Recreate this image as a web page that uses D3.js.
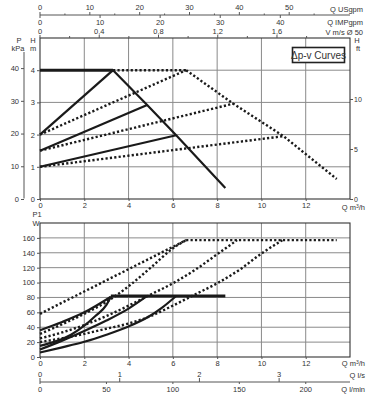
<!DOCTYPE html>
<html><head><meta charset="utf-8">
<script src="https://cdn.jsdelivr.net/npm/d3@7"></script>
<style>
html,body{margin:0;padding:0;background:#fff;}
svg{display:block;}
text{font-family:"Liberation Sans",Arial,Helvetica,sans-serif;fill:#333;}
</style></head>
<body><div id="chart"></div>
<script>
// ---------- tick labels / axes data ----------
const qTicks = [0,2,4,6,8,10,12];
const qGrid = [2,4,6,8,10,12];
const hTicks = [0,1,2,3,4];
const kpaTicks = [0,10,20,30,40];
const ftTicks = [0,5,10];
const usgpmTicks = [0,10,20,30,40,50];
const impTicks = [0,10,20,30,40];
const velTicks = [0,0.4,0.8,1.2,1.6];
const velMinor = [0.2,0.6,1.0,1.4,1.8];
const velLabels = ["0","0,4","0,8","1,2","1,6"];
const pTicks = [0,20,40,60,80,100,120,140,160];
const lsTicks = [0,1,2,3];
const lminTicks = [0,50,100,150,200];

// ---------- head curves (Q m3/h, H m) ----------
const headSolidMax = [[0,4],[3.3,4]];
const headSolidDesc = [[3.3,4],[4.84,2.92],[6.15,1.98],[8.37,0.34]];
const headSolidDpv1 = [[0,2],[3.3,4]];
const headSolidDpv2 = [[0,1.5],[4.84,2.92]];
const headSolidDpv3 = [[0,1],[6.15,1.98]];
const headDotMax = [[3.3,4],[6.6,4]];
const headDotDesc = [[6.6,4],[8.73,2.96],[11.0,1.95],[13.4,0.62]];
const headDotDpv1 = [[0,2],[6.6,4]];
const headDotDpv2 = [[0,1.5],[8.73,2.96]];
const headDotDpv3 = [[0,1],[11.0,1.95]];

// ---------- power curves (Q m3/h, P1 W) ----------
const powSolidMax = [[3.2,82],[8.37,82]];
const powSolidA = [[0,36],[1,47],[2,60],[3.2,81]];
const powSolidB = [[0,15],[0.7,21],[1.4,30],[2.0,42],[2.5,55],[3.0,70],[3.2,81]];
const powSolidC = [[0,10],[1,22],[2,35],[3,49],[4,65],[4.84,82]];
const powSolidD = [[0,6],[1,13],[2,20.5],[3,30],[4,41],[4.9,54],[5.5,66],[6.15,82]];
const powDotMax = [[6.6,157],[13.4,157]];
const powDotE = [[0,58],[6.6,157]];
const powDotF = [[0,31],[1,44],[2,58],[3,74],[4,95],[5,120],[6,146],[6.6,157]];
const powDotG = [[0,25],[1,33],[2,43],[3,55],[4,69],[5,84],[6,99],[7,117],[8,138],[8.9,157]];
const powDotH = [[0,20],[2,31],[3,38],[4,45],[5,55],[6,69],[7,84],[8,99],[9,117],[10,139],[10.95,157]];

const W = 373, H = 398;
const svg = d3.select("#chart").append("svg").attr("width",W).attr("height",H);

const x = d3.scaleLinear().domain([0,14]).range([40,350]);
const xUS = d3.scaleLinear().domain([0,62.2]).range([40,350]);
const xIMP = d3.scaleLinear().domain([0,51.6]).range([40,350]);
const xV = d3.scaleLinear().domain([0,2.093]).range([40,350]);
const xLs = d3.scaleLinear().domain([0,3.889]).range([40,350]);
const xLmin = d3.scaleLinear().domain([0,233.3]).range([40,350]);

const yH = d3.scaleLinear().domain([0,5]).range([199,38]);
const yKpa = d3.scaleLinear().domain([0,49.2]).range([199,38]);
const yFt = d3.scaleLinear().domain([0,16.1]).range([199,38]);
const yP = d3.scaleLinear().domain([0,180]).range([357,223]);

const gridCol = "#8a8a8a", lineCol = "#1a1a1a", axisCol = "#555", txtCol = "#333";
const fs = 7.5;

function styleAxis(g){
  g.selectAll("path").attr("stroke",axisCol).attr("stroke-width",1);
  g.selectAll("line").attr("stroke",axisCol);
  g.selectAll("text").attr("font-size",fs).attr("fill",txtCol)
    .style("font-family",'"Liberation Sans",Arial,sans-serif');
}
function label(g, xx, yy, s, anchor, size){
  return g.append("text").attr("x",xx).attr("y",yy).attr("text-anchor",anchor||"middle")
    .attr("font-size",size||fs).attr("fill",txtCol).text(s);
}

// ======== UPPER CHART ========
const up = svg.append("g");
up.selectAll(".vg").data(qGrid).join("line")
  .attr("x1",d=>x(d)).attr("x2",d=>x(d)).attr("y1",yH(5)).attr("y2",yH(0))
  .attr("stroke",gridCol).attr("stroke-width",1);
up.selectAll(".hg").data([1,2,3,4]).join("line")
  .attr("x1",x(0)).attr("x2",x(14)).attr("y1",d=>yH(d)).attr("y2",d=>yH(d))
  .attr("stroke",gridCol).attr("stroke-width",1);
up.append("rect").attr("x",x(0)).attr("y",yH(5)).attr("width",x(14)-x(0)).attr("height",yH(0)-yH(5))
  .attr("fill","none").attr("stroke","#333").attr("stroke-width",1.1);

up.append("g").attr("transform",`translate(${x(0)},0)`)
  .call(d3.axisLeft(yH).tickValues(hTicks).tickSize(3).tickPadding(2).tickFormat(d3.format("d")))
  .call(styleAxis).call(g=>g.select("path").remove());
up.append("g").attr("transform",`translate(24,0)`)
  .call(d3.axisLeft(yKpa).tickValues(kpaTicks).tickSize(3).tickPadding(2).tickFormat(d3.format("d")))
  .call(styleAxis).call(g=>g.select("path").attr("d","M0,52V198.5"));
up.append("g").attr("transform",`translate(${x(14)},0)`)
  .call(d3.axisRight(yFt).tickValues(ftTicks).tickSize(3).tickPadding(1).tickFormat(d3.format("d")))
  .call(styleAxis).call(g=>g.select("path").remove())
  .call(g=>g.selectAll("text").attr("font-size",7).attr("dy","0.3em"));
up.append("g").attr("transform",`translate(0,${yH(0)})`)
  .call(d3.axisBottom(x).tickValues(qTicks).tickSize(2).tickPadding(2).tickFormat(d3.format("d")))
  .call(styleAxis).call(g=>g.select("path").remove());

// top axes
const gUS = up.append("g").attr("transform","translate(0,15)");
gUS.append("line").attr("x1",x(0)).attr("x2",x(14)).attr("y1",0).attr("y2",0).attr("stroke",axisCol);
gUS.selectAll(".t").data(usgpmTicks).join("line").attr("x1",d=>xUS(d)).attr("x2",d=>xUS(d)).attr("y1",-3).attr("y2",0).attr("stroke",axisCol);
gUS.selectAll(".tm").data(usgpmTicks.map(d=>d+5)).join("line").attr("x1",d=>xUS(d)).attr("x2",d=>xUS(d)).attr("y1",-1.5).attr("y2",0).attr("stroke",axisCol);
gUS.selectAll(".l").data(usgpmTicks).join("text").attr("x",d=>xUS(d)).attr("y",-5).attr("text-anchor","middle").attr("font-size",fs).attr("fill",txtCol).text(d=>d);
gUS.selectAll(".ti").data(impTicks).join("line").attr("x1",d=>xIMP(d)).attr("x2",d=>xIMP(d)).attr("y1",0).attr("y2",3).attr("stroke",axisCol);
gUS.selectAll(".li").data(impTicks).join("text").attr("x",d=>xIMP(d)).attr("y",10).attr("text-anchor","middle").attr("font-size",fs).attr("fill",txtCol).text(d=>d);
label(up,363,12,"Q USgpm","end");
label(up,363,25,"Q IMPgpm","end");
label(up,363,35,"V m/s Ø 50","end");
up.selectAll(".vt").data(velTicks).join("line").attr("x1",d=>xV(d)).attr("x2",d=>xV(d)).attr("y1",35).attr("y2",38).attr("stroke",axisCol);
up.selectAll(".vtm").data(velMinor).join("line").attr("x1",d=>xV(d)).attr("x2",d=>xV(d)).attr("y1",36).attr("y2",38).attr("stroke",axisCol);
up.selectAll(".vl").data(velTicks).join("text").attr("x",d=>xV(d)).attr("y",34).attr("text-anchor","middle").attr("font-size",fs).attr("fill",txtCol).text((d,i)=>velLabels[i]);

label(up,19,43,"P");
label(up,18,51,"kPa");
label(up,33,43,"H");
label(up,33,51,"m");
label(up,357,43,"H");
label(up,358,51,"ft");
const qlab1 = up.append("text").attr("x",365).attr("y",210).attr("text-anchor","end").attr("font-size",fs).attr("fill",txtCol);
qlab1.append("tspan").text("Q m");
qlab1.append("tspan").attr("font-size",5).attr("dy",-2.5).text("3");
qlab1.append("tspan").attr("dy",2.5).text("/h");

// legend box
up.append("rect").attr("x",292.5).attr("y",47.5).attr("width",52).attr("height",15)
  .attr("fill","#fff").attr("stroke","#222").attr("stroke-width",1.6);
up.append("text").attr("x",318.5).attr("y",58.5).attr("text-anchor","middle").attr("font-size",10)
  .attr("fill","#222").text("Δp-v Curves");

const lineH = d3.line().x(d=>x(d[0])).y(d=>yH(d[1]));
const lineP = d3.line().x(d=>x(d[0])).y(d=>yP(d[1])).curve(d3.curveMonotoneX);

function dot(g, data, gen){
  g.append("path").attr("d",gen(data)).attr("fill","none").attr("stroke",lineCol)
   .attr("stroke-width",2.4).attr("stroke-dasharray","2.2,2.2");
}
function solid(g, data, gen, w){
  g.append("path").attr("d",gen(data)).attr("fill","none").attr("stroke",lineCol)
   .attr("stroke-width",w||2.2).attr("stroke-linejoin","round");
}
[headDotMax, headDotDesc, headDotDpv1, headDotDpv2, headDotDpv3].forEach(d=>dot(up,d,lineH));
solid(up, headSolidMax, lineH, 3);
[headSolidDesc, headSolidDpv1, headSolidDpv2, headSolidDpv3].forEach(d=>solid(up,d,lineH));

// ======== LOWER CHART ========
const lo = svg.append("g");
lo.selectAll(".vg").data(qGrid).join("line")
  .attr("x1",d=>x(d)).attr("x2",d=>x(d)).attr("y1",yP(180)).attr("y2",yP(0))
  .attr("stroke",gridCol).attr("stroke-width",1);
lo.selectAll(".hg").data(pTicks.filter(d=>d>0)).join("line")
  .attr("x1",x(0)).attr("x2",x(14)).attr("y1",d=>yP(d)).attr("y2",d=>yP(d))
  .attr("stroke",gridCol).attr("stroke-width",1);
lo.append("rect").attr("x",x(0)).attr("y",yP(180)).attr("width",x(14)-x(0)).attr("height",yP(0)-yP(180))
  .attr("fill","none").attr("stroke","#333").attr("stroke-width",1.1);
lo.append("g").attr("transform",`translate(${x(0)},0)`)
  .call(d3.axisLeft(yP).tickValues(pTicks).tickSize(3).tickPadding(2).tickFormat(d3.format("d")))
  .call(styleAxis).call(g=>g.select("path").remove());
lo.append("g").attr("transform",`translate(0,${yP(0)})`)
  .call(d3.axisBottom(x).tickValues(qTicks).tickSize(2).tickPadding(2).tickFormat(d3.format("d")))
  .call(styleAxis).call(g=>g.select("path").remove());
label(lo,37,217,"P1");
label(lo,36,226,"W");
const qlab2 = lo.append("text").attr("x",365).attr("y",366).attr("text-anchor","end").attr("font-size",fs).attr("fill",txtCol);
qlab2.append("tspan").text("Q m");
qlab2.append("tspan").attr("font-size",5).attr("dy",-2.5).text("3");
qlab2.append("tspan").attr("dy",2.5).text("/h");

const gB = lo.append("g").attr("transform","translate(0,382)");
gB.append("line").attr("x1",x(0)).attr("x2",x(14)).attr("y1",0).attr("y2",0).attr("stroke",axisCol);
gB.selectAll(".t").data(lsTicks).join("line").attr("x1",d=>xLs(d)).attr("x2",d=>xLs(d)).attr("y1",-4).attr("y2",0).attr("stroke",axisCol);
gB.selectAll(".l").data(lsTicks).join("text").attr("x",d=>xLs(d)).attr("y",-5).attr("text-anchor","middle").attr("font-size",fs).attr("fill",txtCol).text(d=>d);
gB.selectAll(".tm").data(lminTicks).join("line").attr("x1",d=>xLmin(d)).attr("x2",d=>xLmin(d)).attr("y1",0).attr("y2",2).attr("stroke",axisCol);
gB.selectAll(".lm").data(lminTicks).join("text").attr("x",d=>xLmin(d)).attr("y",10).attr("text-anchor","middle").attr("font-size",fs).attr("fill",txtCol).text(d=>d);
label(lo,365,378,"Q l/s","end");
label(lo,365,392,"Q l/min","end");

[powDotMax, powDotE, powDotF, powDotG, powDotH].forEach(d=>dot(lo,d,lineP));
solid(lo, powSolidMax, lineP, 3);
[powSolidA, powSolidB, powSolidC, powSolidD].forEach(d=>solid(lo,d,lineP));
</script></body></html>
